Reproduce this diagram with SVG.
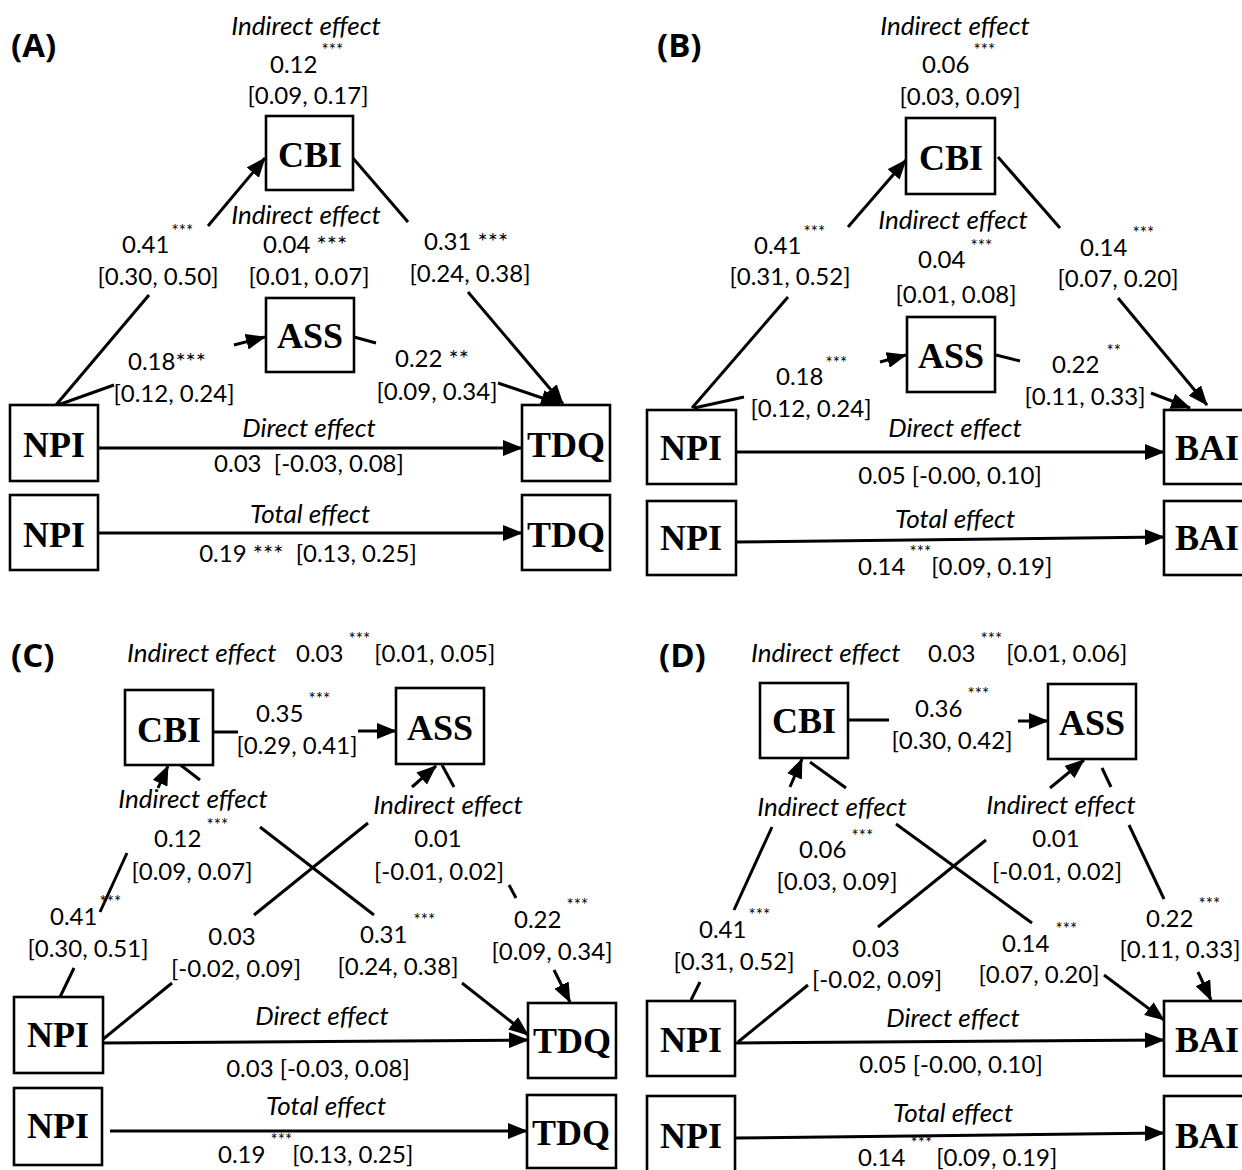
<svg xmlns="http://www.w3.org/2000/svg" width="1242" height="1170" viewBox="0 0 1242 1170">
<defs>
<style>
.t{font-family:Lato,"Open Sans",sans-serif;font-size:24px;fill:#000}
.c{text-anchor:middle}
.i{font-style:italic;font-size:26px}
.s{font-size:17px}
.p{font-family:"Open Sans",Lato,sans-serif;font-weight:bold;font-size:33px}
.n{font-family:"Liberation Serif","Times New Roman",serif;font-weight:bold;font-size:36px;text-anchor:middle}
.b{fill:#fff;stroke:#000;stroke-width:2.6}
.l{stroke:#000;stroke-width:3;fill:none}
.a{stroke:#000;stroke-width:3;fill:none;marker-end:url(#ah)}
</style>
<marker id="ah" markerUnits="userSpaceOnUse" markerWidth="20" markerHeight="16" viewBox="0 0 20 16" refX="19" refY="8" orient="auto">
<path d="M0,0 L20,8 L0,16 z" fill="#000"/>
</marker>
</defs>
<rect width="1242" height="1170" fill="#fff"/>

<g id="connectors">
<!-- Panel A -->
<line class="l" x1="56" y1="405" x2="149" y2="295"/>
<line class="a" x1="208" y1="226" x2="265" y2="158"/>
<line class="l" x1="58" y1="405" x2="114" y2="385"/>
<line class="a" x1="234" y1="345" x2="265" y2="337"/>
<line class="l" x1="352" y1="157" x2="408" y2="222"/>
<line class="a" x1="468" y1="292" x2="563" y2="404"/>
<line class="l" x1="354" y1="337" x2="376" y2="343"/>
<line class="a" x1="498" y1="383" x2="560" y2="404"/>
<line class="a" x1="98" y1="448" x2="522" y2="448"/>
<line class="a" x1="98" y1="533" x2="522" y2="533"/>
<!-- Panel B -->
<line class="l" x1="692" y1="408" x2="788" y2="297"/>
<line class="a" x1="848" y1="227" x2="906" y2="160"/>
<line class="l" x1="694" y1="408" x2="744" y2="397"/>
<line class="a" x1="880" y1="362" x2="906" y2="355"/>
<line class="l" x1="998" y1="157" x2="1060" y2="228"/>
<line class="a" x1="1118" y1="298" x2="1207" y2="405"/>
<line class="l" x1="996" y1="355" x2="1020" y2="361"/>
<line class="a" x1="1151" y1="393" x2="1190" y2="408"/>
<line class="a" x1="736" y1="452" x2="1164" y2="452"/>
<line class="a" x1="736" y1="542" x2="1164" y2="537"/>
<!-- Panel C -->
<line class="l" x1="214" y1="732" x2="238" y2="732"/>
<line class="a" x1="358" y1="731" x2="396" y2="731"/>
<line class="l" x1="60" y1="997" x2="74" y2="968"/>
<line class="l" x1="100" y1="912" x2="127" y2="853"/>
<line class="a" x1="158" y1="788" x2="168" y2="766"/>
<line class="l" x1="178" y1="763" x2="200" y2="780"/>
<line class="l" x1="260" y1="827" x2="374" y2="915"/>
<line class="a" x1="462" y1="983" x2="528" y2="1035"/>
<line class="l" x1="102" y1="1040" x2="172" y2="983"/>
<line class="l" x1="254" y1="915" x2="368" y2="823"/>
<line class="a" x1="412" y1="787" x2="436" y2="766"/>
<line class="l" x1="442" y1="765" x2="454" y2="787"/>
<line class="l" x1="509" y1="885" x2="516" y2="898"/>
<line class="a" x1="554" y1="970" x2="570" y2="1002"/>
<line class="a" x1="102" y1="1043" x2="528" y2="1040"/>
<line class="a" x1="110" y1="1131" x2="527" y2="1131"/>
<!-- Panel D -->
<line class="l" x1="848" y1="720" x2="889" y2="720"/>
<line class="a" x1="1018" y1="721" x2="1048" y2="721"/>
<line class="l" x1="691" y1="1000" x2="700" y2="982"/>
<line class="l" x1="734" y1="910" x2="772" y2="827"/>
<line class="a" x1="790" y1="787" x2="802" y2="759"/>
<line class="l" x1="810" y1="762" x2="846" y2="788"/>
<line class="l" x1="896" y1="824" x2="1032" y2="923"/>
<line class="a" x1="1104" y1="975" x2="1164" y2="1020"/>
<line class="l" x1="738" y1="1042" x2="808" y2="985"/>
<line class="l" x1="878" y1="927" x2="986" y2="840"/>
<line class="a" x1="1050" y1="788" x2="1084" y2="760"/>
<line class="l" x1="1102" y1="768" x2="1111" y2="787"/>
<line class="l" x1="1129" y1="825" x2="1164" y2="899"/>
<line class="a" x1="1198" y1="972" x2="1211" y2="1000"/>
<line class="a" x1="736" y1="1043" x2="1164" y2="1040"/>
<line class="a" x1="736" y1="1138" x2="1164" y2="1133"/>
</g>

<!-- Panel A -->
<g id="panelA-labels">
<text class="p" x="11" y="57">(A)</text>
<text class="t i c" x="306" y="35">Indirect effect</text>
<text class="t" x="270" y="73">0.12<tspan class="s" dx="4" dy="-17">***</tspan></text>
<text class="t c" x="308" y="104">[0.09, 0.17]</text>
<text class="t" x="122" y="253">0.41<tspan class="s" dx="2" dy="-16">***</tspan></text>
<text class="t c" x="158" y="285">[0.30, 0.50]</text>
<text class="t i c" x="306" y="224">Indirect effect</text>
<text class="t" x="263" y="253">0.04 ***</text>
<text class="t c" x="309" y="285">[0.01, 0.07]</text>
<text class="t" x="424" y="250">0.31 ***</text>
<text class="t c" x="470" y="282">[0.24, 0.38]</text>
<text class="t" x="128" y="370">0.18***</text>
<text class="t c" x="174" y="402">[0.12, 0.24]</text>
<text class="t" x="395" y="367">0.22 **</text>
<text class="t c" x="437" y="400">[0.09, 0.34]</text>
<text class="t i c" x="309" y="437">Direct effect</text>
<text class="t c" x="309" y="472" xml:space="preserve">0.03&#160; [-0.03, 0.08]</text>
<text class="t i c" x="310" y="523">Total effect</text>
<text class="t c" x="308" y="562" xml:space="preserve">0.19 ***&#160; [0.13, 0.25]</text>
</g>
<g id="A-CBI"><rect class="b" x="266" y="116" width="87" height="74"/><text class="n" x="310" y="167">CBI</text></g>
<g id="A-ASS"><rect class="b" x="266" y="298" width="88" height="74"/><text class="n" x="310" y="348">ASS</text></g>
<g id="A-NPI"><rect class="b" x="10" y="405" width="88" height="76"/><text class="n" x="54" y="457">NPI</text></g>
<g id="A-TDQ"><rect class="b" x="522" y="405" width="88" height="76"/><text class="n" x="566" y="457">TDQ</text></g>
<g id="A-NPI2"><rect class="b" x="10" y="495" width="88" height="75"/><text class="n" x="54" y="547">NPI</text></g>
<g id="A-TDQ2"><rect class="b" x="522" y="495" width="88" height="75"/><text class="n" x="566" y="547">TDQ</text></g>

<!-- Panel B -->
<g id="panelB-labels">
<text class="p" x="657" y="57">(B)</text>
<text class="t i c" x="955" y="35">Indirect effect</text>
<text class="t" x="922" y="73">0.06<tspan class="s" dx="4" dy="-17">***</tspan></text>
<text class="t c" x="960" y="105">[0.03, 0.09]</text>
<text class="t" x="754" y="254">0.41<tspan class="s" dx="2" dy="-16">***</tspan></text>
<text class="t c" x="790" y="285">[0.31, 0.52]</text>
<text class="t i c" x="953" y="229">Indirect effect</text>
<text class="t" x="918" y="268">0.04<tspan class="s" dx="5" dy="-16">***</tspan></text>
<text class="t c" x="956" y="303">[0.01, 0.08]</text>
<text class="t" x="1080" y="256">0.14<tspan class="s" dx="5" dy="-17">***</tspan></text>
<text class="t c" x="1118" y="287">[0.07, 0.20]</text>
<text class="t" x="776" y="385">0.18<tspan class="s" dx="2" dy="-16">***</tspan></text>
<text class="t c" x="811" y="417">[0.12, 0.24]</text>
<text class="t" x="1052" y="373">0.22<tspan class="s" dx="7" dy="-16">**</tspan></text>
<text class="t c" x="1085" y="405">[0.11, 0.33]</text>
<text class="t i c" x="955" y="437">Direct effect</text>
<text class="t c" x="950" y="484">0.05 [-0.00, 0.10]</text>
<text class="t i c" x="955" y="528">Total effect</text>
<text class="t" x="858" y="575">0.14<tspan class="s" dx="4" dy="-17">***</tspan><tspan dy="17">[0.09, 0.19]</tspan></text>
</g>
<g id="B-CBI"><rect class="b" x="906" y="118" width="89" height="76"/><text class="n" x="951" y="170">CBI</text></g>
<g id="B-ASS"><rect class="b" x="907" y="317" width="88" height="75"/><text class="n" x="951" y="368">ASS</text></g>
<g id="B-NPI"><rect class="b" x="647" y="410" width="89" height="74"/><text class="n" x="691" y="460">NPI</text></g>
<g id="B-BAI"><rect class="b" x="1164" y="410" width="95" height="74"/><text class="n" x="1207" y="460">BAI</text></g>
<g id="B-NPI2"><rect class="b" x="647" y="501" width="89" height="74"/><text class="n" x="691" y="550">NPI</text></g>
<g id="B-BAI2"><rect class="b" x="1164" y="501" width="95" height="74"/><text class="n" x="1207" y="550">BAI</text></g>

<!-- Panel C -->
<g id="panelC-labels">
<text class="p" x="11" y="667">(C)</text>
<text class="t i" x="127" y="662">Indirect effect</text>
<text class="t" x="296" y="662">0.03<tspan class="s" dx="5" dy="-17">***</tspan><tspan dx="4" dy="17">[0.01, 0.05]</tspan></text>
<text class="t" x="256" y="722">0.35<tspan class="s" dx="5" dy="-17">***</tspan></text>
<text class="t c" x="297" y="754">[0.29, 0.41]</text>
<text class="t i c" x="193" y="808">Indirect effect</text>
<text class="t" x="154" y="847">0.12<tspan class="s" dx="5" dy="-16">***</tspan></text>
<text class="t c" x="192" y="880">[0.09, 0.07]</text>
<text class="t i c" x="448" y="814">Indirect effect</text>
<text class="t c" x="438" y="847">0.01</text>
<text class="t c" x="439" y="880">[-0.01, 0.02]</text>
<text class="t" x="50" y="925">0.41<tspan class="s" dx="2" dy="-17">***</tspan></text>
<text class="t c" x="88" y="957">[0.30, 0.51]</text>
<text class="t c" x="232" y="945">0.03</text>
<text class="t c" x="236" y="977">[-0.02, 0.09]</text>
<text class="t" x="360" y="943">0.31<tspan class="s" dx="6" dy="-17">***</tspan></text>
<text class="t c" x="398" y="975">[0.24, 0.38]</text>
<text class="t" x="514" y="928">0.22<tspan class="s" dx="5" dy="-17">***</tspan></text>
<text class="t c" x="552" y="960">[0.09, 0.34]</text>
<text class="t i c" x="322" y="1025">Direct effect</text>
<text class="t c" x="318" y="1077">0.03 [-0.03, 0.08]</text>
<text class="t i c" x="326" y="1115">Total effect</text>
<text class="t" x="218" y="1163">0.19<tspan class="s" dx="5" dy="-17">***</tspan><tspan dy="17">[0.13, 0.25]</tspan></text>
</g>
<g id="C-CBI"><rect class="b" x="125" y="690" width="88" height="75"/><text class="n" x="169" y="742">CBI</text></g>
<g id="C-ASS"><rect class="b" x="396" y="688" width="88" height="76"/><text class="n" x="440" y="740">ASS</text></g>
<g id="C-NPI"><rect class="b" x="14" y="997" width="89" height="76"/><text class="n" x="58" y="1047">NPI</text></g>
<g id="C-TDQ"><rect class="b" x="528" y="1003" width="88" height="75"/><text class="n" x="572" y="1053">TDQ</text></g>
<g id="C-NPI2"><rect class="b" x="14" y="1088" width="88" height="77"/><text class="n" x="58" y="1138">NPI</text></g>
<g id="C-TDQ2"><rect class="b" x="527" y="1095" width="89" height="73"/><text class="n" x="571" y="1145">TDQ</text></g>

<!-- Panel D -->
<g id="panelD-labels">
<text class="p" x="659" y="667">(D)</text>
<text class="t i" x="751" y="662">Indirect effect</text>
<text class="t" x="928" y="662">0.03<tspan class="s" dx="5" dy="-17">***</tspan><tspan dx="4" dy="17">[0.01, 0.06]</tspan></text>
<text class="t" x="915" y="717">0.36<tspan class="s" dx="5" dy="-17">***</tspan></text>
<text class="t c" x="952" y="749">[0.30, 0.42]</text>
<text class="t i c" x="832" y="816">Indirect effect</text>
<text class="t" x="799" y="858">0.06<tspan class="s" dx="5" dy="-16">***</tspan></text>
<text class="t c" x="837" y="890">[0.03, 0.09]</text>
<text class="t i c" x="1061" y="814">Indirect effect</text>
<text class="t c" x="1056" y="847">0.01</text>
<text class="t c" x="1057" y="880">[-0.01, 0.02]</text>
<text class="t" x="699" y="938">0.41<tspan class="s" dx="2" dy="-17">***</tspan></text>
<text class="t c" x="734" y="970">[0.31, 0.52]</text>
<text class="t c" x="876" y="957">0.03</text>
<text class="t c" x="877" y="988">[-0.02, 0.09]</text>
<text class="t" x="1002" y="952">0.14<tspan class="s" dx="6" dy="-17">***</tspan></text>
<text class="t c" x="1039" y="983">[0.07, 0.20]</text>
<text class="t" x="1146" y="927">0.22<tspan class="s" dx="5" dy="-17">***</tspan></text>
<text class="t c" x="1180" y="958">[0.11, 0.33]</text>
<text class="t i c" x="953" y="1027">Direct effect</text>
<text class="t c" x="951" y="1073">0.05 [-0.00, 0.10]</text>
<text class="t i c" x="953" y="1122">Total effect</text>
<text class="t" x="858" y="1166">0.14<tspan class="s" dx="5" dy="-17">***</tspan><tspan dx="4" dy="17">[0.09, 0.19]</tspan></text>
</g>
<g id="D-CBI"><rect class="b" x="760" y="683" width="88" height="75"/><text class="n" x="804" y="733">CBI</text></g>
<g id="D-ASS"><rect class="b" x="1048" y="684" width="88" height="75"/><text class="n" x="1092" y="735">ASS</text></g>
<g id="D-NPI"><rect class="b" x="647" y="1001" width="88" height="75"/><text class="n" x="691" y="1052">NPI</text></g>
<g id="D-BAI"><rect class="b" x="1164" y="1001" width="95" height="75"/><text class="n" x="1207" y="1052">BAI</text></g>
<g id="D-NPI2"><rect class="b" x="647" y="1096" width="88" height="80"/><text class="n" x="691" y="1148">NPI</text></g>
<g id="D-BAI2"><rect class="b" x="1164" y="1096" width="95" height="80"/><text class="n" x="1207" y="1148">BAI</text></g>
</svg>
